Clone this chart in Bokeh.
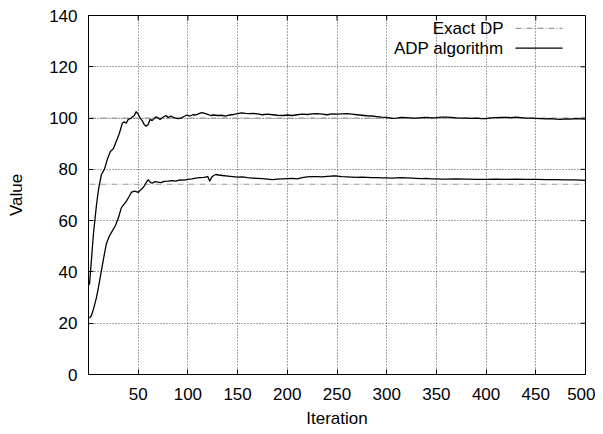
from bokeh.plotting import figure
from bokeh.models import Range1d, FixedTicker, Label, Arrow
from bokeh.embed import file_html
from bokeh.resources import INLINE

# ---- data ----
x_ticks = [50, 100, 150, 200, 250, 300, 350, 400, 450, 500]
y_ticks = [0, 20, 40, 60, 80, 100, 120, 140]

exact_upper = 100.0
exact_lower = 74.2

adp_upper_x = [1, 3, 5, 8, 10, 13, 16, 19, 22, 25, 28, 31, 34, 36, 38, 40, 43, 46, 48, 50,
               52, 54, 56, 58, 60, 62, 64, 66, 68, 70, 72, 75, 78, 80, 83, 86, 90, 93, 96, 99,
               102, 105, 108, 111, 114, 117, 120, 123, 126, 130, 134, 138, 142, 146, 150, 154,
               158, 162, 166, 170, 175, 180, 185, 190, 196, 200, 205, 210, 215, 220, 225, 230,
               235, 240, 245, 250, 255, 260, 265, 270, 275, 280, 285, 290, 295, 300, 305, 310,
               315, 320, 325, 330, 335, 340, 345, 350, 355, 360, 365, 370, 375, 380, 385, 390,
               395, 400, 405, 410, 415, 420, 425, 430, 435, 440, 445, 450, 455, 460, 465, 470,
               475, 480, 485, 490, 495, 500]
adp_upper_y = [35, 45, 55, 66, 72, 78, 80, 84, 87, 88, 91, 94, 98, 98.5, 98, 99.5, 100, 101, 102.5, 101.5,
               100, 99, 97.5, 96.8, 97.5, 99.5, 99, 99.8, 100.5, 100, 99.4, 100.3, 101, 100.2, 100.8, 100.2, 99.8, 100, 100.6, 101.2,
               100.8, 101.3, 101.2, 101.7, 102.1, 101.8, 101.4, 101, 101.2, 101, 101.1, 100.8, 101.2, 101.4, 101.7, 102,
               101.8, 101.7, 101.8, 101.6, 101.3, 101.5, 101.3, 101.1, 101, 101.2, 101, 101.3, 101.5, 101.4, 101.6, 101.7,
               101.5, 101.3, 101.6, 101.5, 101.6, 101.7, 101.5, 101.3, 101.1, 100.9, 100.8, 100.6, 100.4, 100.3, 99.9, 100,
               100.3, 100.2, 100, 100, 100.2, 100.3, 100.1, 100.2, 100.4, 100.4, 100.3, 100.1, 100, 100, 99.9, 100,
               99.8, 99.8, 100.1, 100.2, 100.3, 100.3, 100.2, 100.4, 100.2, 100, 100, 99.9, 99.8, 99.7, 99.8, 99.6,
               99.5, 99.7, 99.6, 99.8, 99.7, 99.6]

adp_lower_x = [1, 3, 5, 8, 10, 13, 16, 18, 21, 24, 27, 30, 33, 36, 38, 41, 43, 46, 48, 50,
               52, 54, 56, 58, 60, 62, 64, 67, 70, 73, 76, 80, 84, 88, 92, 96, 100, 104, 108, 112,
               116, 120, 122, 124, 126, 128, 131, 135, 140, 145, 150, 155, 160, 165, 170, 175, 180,
               185, 190, 195, 200, 205, 210, 215, 220, 225, 230, 235, 240, 245, 250, 255, 260, 265,
               270, 275, 280, 285, 290, 295, 300, 305, 310, 315, 320, 325, 330, 335, 340, 345, 350,
               355, 360, 370, 380, 390, 400, 410, 420, 430, 440, 450, 460, 470, 480, 490, 500]
adp_lower_y = [22, 23, 25.5, 30, 34, 40.5, 47, 51, 54, 56, 58, 61, 65, 66.5, 67.5, 69.5, 71, 71.5, 71.3, 71,
               71.8, 72.5, 73.5, 74.8, 76, 75, 74.6, 75.2, 75, 74.8, 75.3, 75.4, 75.6, 75.4, 75.9, 75.8, 76.1, 76.3, 76.6, 76.8,
               76.9, 77.2, 75.4, 77.0, 77.6, 78, 77.8, 77.6, 77.4, 77.2, 77, 77.1, 76.8, 76.6, 76.5, 76.4, 76.2,
               76, 76.2, 76.3, 76.4, 76.5, 76.3, 76.8, 77.1, 77.2, 77.2, 77.1, 77.3, 77.4, 77.4, 77.2, 77.1, 77,
               76.9, 77, 76.9, 76.8, 76.8, 76.7, 76.7, 76.6, 76.7, 76.8, 76.7, 76.6, 76.5, 76.4, 76.5, 76.3, 76.3,
               76.2, 76.2, 76.3, 76.2, 76.1, 76.1, 76.2, 76.1, 76.2, 76.1, 76.1, 76, 76, 75.9, 75.9, 75.7]

legend_labels = ["Exact DP", "ADP algorithm"]

FONT = "Liberation Sans"
FS = "17px"
X0, X1 = 0, 500
Y0, Y1 = 0, 140

p = figure(width=595, height=430, output_backend="svg", toolbar_location=None,
           x_range=Range1d(X0, X1), y_range=Range1d(Y0, Y1),
           min_border_left=88, min_border_right=10, min_border_top=15, min_border_bottom=52)
p.background_fill_color = "white"
p.border_fill_color = "white"
p.outline_line_color = "black"
p.outline_line_width = 1

for ax in (p.xaxis[0], p.yaxis[0]):
    ax.major_label_text_font = FONT
    ax.major_label_text_font_size = FS
    ax.major_label_text_color = "black"
    ax.axis_label_text_font = FONT
    ax.axis_label_text_font_size = FS
    ax.axis_label_text_font_style = "normal"
    ax.axis_label_text_color = "black"
    ax.major_tick_in = 5
    ax.major_tick_out = 0
    ax.minor_tick_line_color = None
    ax.axis_line_color = "black"
    ax.major_tick_line_color = "black"

p.xaxis[0].ticker = FixedTicker(ticks=x_ticks)
p.yaxis[0].ticker = FixedTicker(ticks=y_ticks)
p.xaxis[0].axis_label = "Iteration"
p.yaxis[0].axis_label = "Value"
p.xaxis[0].major_label_standoff = 13
p.xaxis[0].axis_label_standoff = 6
p.yaxis[0].major_label_standoff = 11
p.yaxis[0].axis_label_standoff = 20

# mirrored tick marks on top and right edges, derived from the tick lists
tick_len_x = (Y1 - Y0) * 5 / 363
tick_len_y = (X1 - X0) * 5 / 497
p.segment(x0=x_ticks, y0=[Y1] * len(x_ticks), x1=x_ticks, y1=[Y1 - tick_len_x] * len(x_ticks),
          line_color="black", line_width=1)
p.segment(x0=[X1] * len(y_ticks), y0=y_ticks, x1=[X1 - tick_len_y] * len(y_ticks), y1=y_ticks,
          line_color="black", line_width=1)

p.xgrid[0].ticker = FixedTicker(ticks=x_ticks)
p.ygrid[0].ticker = FixedTicker(ticks=y_ticks)
for g in (p.xgrid[0], p.ygrid[0]):
    g.grid_line_color = "black"
    g.grid_line_dash = "1 2"
    g.grid_line_alpha = 0.7
    g.grid_line_width = 1

dp_color = "#9a9a9a"
dp_dash = "6 2 1 2"
p.line([X0 + 1, X1], [exact_upper, exact_upper], line_color=dp_color, line_dash=dp_dash, line_width=1.2)
p.line([X0 + 1, X1], [exact_lower, exact_lower], line_color=dp_color, line_dash=dp_dash, line_width=1.2)

p.line(adp_upper_x, adp_upper_y, line_color="black", line_width=1.3)
p.line(adp_lower_x, adp_lower_y, line_color="black", line_width=1.3)

# gnuplot-style key (label left, sample right)
key_text_x = X0 + (X1 - X0) * 0.835
key_line_x0 = X0 + (X1 - X0) * 0.859
key_line_x1 = X0 + (X1 - X0) * 0.954
key_rows = [Y0 + (Y1 - Y0) * 0.964, Y0 + (Y1 - Y0) * 0.909]
styles = [(dp_color, dp_dash), ("black", "solid")]
for lab, yy, (c, d) in zip(legend_labels, key_rows, styles):
    p.add_layout(Label(x=key_text_x, y=yy, text=lab, text_align="right", text_baseline="middle",
                       text_font=FONT, text_font_size=FS, text_color="black"))
    p.add_layout(Arrow(end=None, x_start=key_line_x0, y_start=yy, x_end=key_line_x1, y_end=yy,
                       line_color=c, line_dash=d, line_width=1.2))

open("out.html", "w").write(file_html(p, INLINE))
